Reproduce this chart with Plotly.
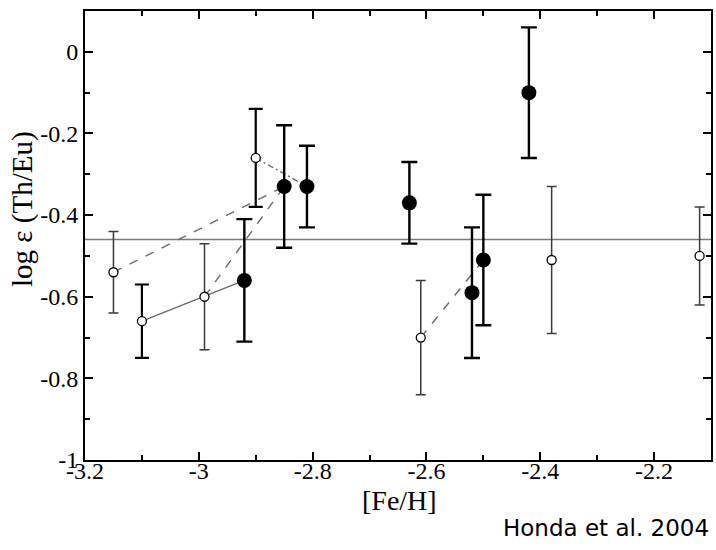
import plotly.graph_objects as go

# Open circles (thin or thick error bars)
open_feh = [-3.15, -3.10, -2.99, -2.90, -2.61, -2.38, -2.12]
open_th_eu = [-0.54, -0.66, -0.60, -0.26, -0.70, -0.51, -0.50]
open_err = [0.10, 0.09, 0.13, 0.12, 0.14, 0.18, 0.12]
open_thick = [False, True, False, True, False, False, False]

# Filled circles
fill_feh = [-2.92, -2.85, -2.81, -2.63, -2.52, -2.50, -2.42]
fill_th_eu = [-0.56, -0.33, -0.33, -0.37, -0.59, -0.51, -0.10]
fill_err = [0.15, 0.15, 0.10, 0.10, 0.16, 0.16, 0.16]

# Connections between stars: (points as (set, index)), line style
connections = [
    ([("o", 0), ("f", 1)], "dash"),
    ([("o", 2), ("f", 1)], "dash"),
    ([("o", 1), ("o", 2), ("f", 0)], "solid"),
    ([("o", 3), ("f", 2)], "dashdot"),
    ([("o", 4), ("f", 5)], "dash"),
]

x_ticks = [-3.2, -3.0, -2.8, -2.6, -2.4, -2.2]
x_ticktext = ["-3.2", "-3", "-2.8", "-2.6", "-2.4", "-2.2"]
y_ticks = [-1, -0.8, -0.6, -0.4, -0.2, 0]
y_ticktext = ["-1", "-0.8", "-0.6", "-0.4", "-0.2", "0"]

x_title = "[Fe/H]"
y_title = "log ε (Th/Eu)"
credit = "Honda et al. 2004"

solar_ref = -0.46

SERIF = "Liberation Serif, Times New Roman, Times, serif"

fig = go.Figure()

def pt(s, i):
    if s == "o":
        return open_feh[i], open_th_eu[i]
    return fill_feh[i], fill_th_eu[i]

for pts, dash in connections:
    xs = [pt(s, i)[0] for s, i in pts]
    ys = [pt(s, i)[1] for s, i in pts]
    fig.add_trace(go.Scatter(x=xs, y=ys, mode="lines",
                             line=dict(color="#6a6a6a", width=1.4,
                                       dash=dash if dash != "dashdot" else "6px,3px,2px,3px"),
                             showlegend=False, hoverinfo="skip"))

for thick in (False, True):
    xs = [x for x, t in zip(open_feh, open_thick) if t == thick]
    ys = [y for y, t in zip(open_th_eu, open_thick) if t == thick]
    es = [e for e, t in zip(open_err, open_thick) if t == thick]
    fig.add_trace(go.Scatter(
        x=xs, y=ys, mode="markers",
        marker=dict(symbol="circle", size=9, color="white",
                    line=dict(color="black", width=1.3)),
        error_y=dict(type="data", array=es, visible=True,
                     color="black" if thick else "#3a3a3a",
                     thickness=2.2 if thick else 1.5,
                     width=7 if thick else 5),
        showlegend=False))

fig.add_trace(go.Scatter(
    x=fill_feh, y=fill_th_eu, mode="markers",
    marker=dict(symbol="circle", size=15, color="black",
                line=dict(color="black", width=0)),
    error_y=dict(type="data", array=fill_err, visible=True,
                 color="black", thickness=2.4, width=8),
    showlegend=False))

fig.add_shape(type="line", xref="paper", x0=0, x1=1, yref="y",
              y0=solar_ref, y1=solar_ref,
              line=dict(color="#7a7a7a", width=1.5), layer="below")

fig.update_layout(
    width=716, height=550, margin=dict(l=85, r=3, t=11, b=90),
    paper_bgcolor="white", plot_bgcolor="white",
    font=dict(family=SERIF, size=24, color="black"),
    xaxis=dict(
        range=[-3.2, -2.1], tickmode="array", tickvals=x_ticks, ticktext=x_ticktext,
        showgrid=False, zeroline=False, showline=True, linecolor="black",
        linewidth=2, mirror="ticks", ticks="inside", ticklen=8, tickwidth=2,
        tickcolor="black", ticklabelstandoff=-12,
        tickfont=dict(family=SERIF, size=24, color="black"),
        minor=dict(ticks="inside", ticklen=5, tickwidth=1.5, tickcolor="black",
                   tickvals=[-3.1, -2.9, -2.7, -2.5, -2.3]),
    ),
    yaxis=dict(
        range=[-1.0, 0.1], tickmode="array", tickvals=y_ticks, ticktext=y_ticktext,
        showgrid=False, zeroline=False, showline=True, linecolor="black",
        linewidth=2, mirror="ticks", ticks="inside", ticklen=8, tickwidth=2,
        tickcolor="black",
        tickfont=dict(family=SERIF, size=24, color="black"),
        minor=dict(ticks="inside", ticklen=5, tickwidth=1.5, tickcolor="black",
                   tickvals=[-0.9, -0.7, -0.5, -0.3, -0.1]),
    ),
)

# axis titles placed as annotations for exact positioning
fig.add_annotation(text=x_title, xref="paper", yref="paper",
                   x=0.503, y=-0.09, xanchor="center", yanchor="middle", showarrow=False,
                   font=dict(family=SERIF, size=28, color="black"))
fig.add_annotation(text=y_title, xref="paper", yref="paper", textangle=-90,
                   x=-0.1, y=0.56, xanchor="center", yanchor="middle", showarrow=False,
                   font=dict(family=SERIF, size=29, color="black"))

fig.add_annotation(text=credit, xref="paper", yref="paper",
                   x=1.0, y=-0.151, xanchor="right", yanchor="middle", showarrow=False,
                   font=dict(family="DejaVu Sans", size=23, color="black"))

fig.write_html("out.html")
